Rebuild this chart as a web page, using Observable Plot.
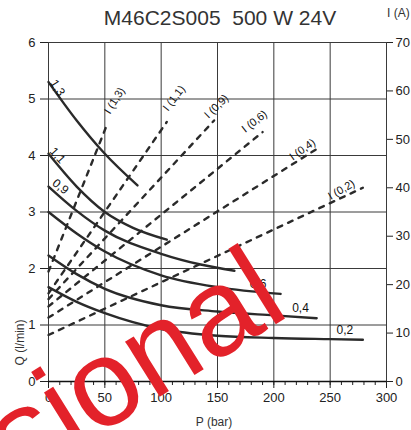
<!DOCTYPE html>
<html>
<head>
<meta charset="utf-8">
<script src="https://cdn.jsdelivr.net/npm/d3@7"></script>
<script src="https://cdn.jsdelivr.net/npm/@observablehq/plot@0.6"></script>
<style>
  html, body { margin: 0; padding: 0; background: #fff; }
  #wrap { position: relative; width: 411px; height: 430px; overflow: hidden; font-family: "Liberation Sans", Arial, sans-serif; }
  #title { position: relative; height: 30px; }
  #title .main { position: absolute; left: 220px; top: 6.7px; transform: translateX(-50%); font-size: 21px; line-height: 21px; color: #333; white-space: pre; }
  #title .unit { position: absolute; left: 387px; top: 7.3px; font-size: 12px; line-height: 12px; color: #333; white-space: pre; }
  #mark { position: absolute; left: 0; top: 0; pointer-events: none; }
</style>
</head>
<body>
<div id="wrap">
  <div id="title"><span class="main">M46C2S005  500 W 24V</span><span class="unit">I (A)</span></div>
  <div id="chart"></div>
  <svg id="mark" width="411" height="430"><text x="291.8" y="314.4" text-anchor="end" transform="rotate(-32 291.8 314.4)" font-size="123" fill="#e3222a" font-family="Liberation Sans, Arial, sans-serif">Provisional</text></svg>
</div>
<script>
// ---- data ----
const displacements = ["1,3", "1,1", "0,9", "0,6", "0,4", "0,2"];

// flow Q (l/min) vs pressure P (bar)
const flowP = [
  [0, 25, 50, 79],
  [0, 25, 50, 75, 105],
  [0, 25, 50, 100, 135, 165],
  [0, 25, 50, 100, 150, 206],
  [0, 25, 50, 100, 150, 200, 238],
  [0, 25, 50, 100, 150, 200, 250, 279]
];
const flowQ = [
  [5.30, 4.62, 4.03, 3.47],
  [4.03, 3.45, 3.00, 2.72, 2.51],
  [3.45, 3.02, 2.67, 2.26, 2.07, 1.96],
  [3.00, 2.62, 2.30, 1.88, 1.67, 1.55],
  [2.23, 1.90, 1.64, 1.35, 1.24, 1.17, 1.12],
  [1.67, 1.41, 1.21, 0.93, 0.81, 0.77, 0.75, 0.74]
];

// current I (A) lines vs pressure: start at P = 0, end at currentEndP
const currentAtZero = [22.7, 18.2, 17.0, 15.5, 13.2, 9.6];
const currentEndP   = [51, 105, 147, 190, 238, 279];
const currentAtEnd  = [52.5, 53.6, 53.9, 51.5, 48.0, 40.0];

// label anchor points (data units)
const flowLabelP = [8, 8, 10.6, 186, 223.7, 263];
const flowLabelQ = [5.20, 4.00, 3.45, 1.73, 1.29, 0.90];
const currentLabelP = [58.6, 111.4, 149, 182.8, 225.4, 260];
const currentLabelI = [58.0, 58.5, 56.8, 53.7, 47.9, 39.6];

// axes
const pTicks = [0, 50, 100, 150, 200, 250, 300];
const pMinor = d3.range(0, 301, 10);
const qTicks = [0, 1, 2, 3, 4, 5, 6];
const iTicks = [0, 10, 20, 30, 40, 50, 60, 70];

// ---- build ----
const Qmax = 6, Imax = 70;
const toQ = (i) => i * Qmax / Imax;

const flowRows = displacements.flatMap((name, k) =>
  flowP[k].map((P, j) => ({name, P, Q: flowQ[k][j]})));
const currentRows = displacements.flatMap((name, k) => [
  {name, P: 0, Q: toQ(currentAtZero[k])},
  {name, P: currentEndP[k], Q: toQ(currentAtEnd[k])}
]);
const flowLabelRot = [58, 48, 38, 0, 0, 0];
const currentLabelRot = [-58, -52, -44, -38, -35, -30];
const flowLabels = displacements.map((name, k) => ({name, P: flowLabelP[k], Q: flowLabelQ[k], r: flowLabelRot[k]}));
const currentLabels = displacements.map((name, k) => ({name: "I (" + name + ")", P: currentLabelP[k], Q: toQ(currentLabelI[k]), r: currentLabelRot[k]}));

const ink = "#2a2a2a";
const grid = "#3a3a3a";

const chart = Plot.plot({
  width: 411,
  height: 400,
  marginTop: 12,
  marginBottom: 49,
  marginLeft: 48,
  marginRight: 25,
  x: {domain: [0, 300]},
  y: {domain: [0, 6]},
  style: {fontFamily: "'Liberation Sans', Arial, sans-serif", fontSize: "13px", color: "#222", background: "#fff"},
  marks: [
    Plot.gridX(pTicks, {stroke: grid, strokeOpacity: 1, strokeWidth: 1}),
    Plot.gridY(qTicks, {stroke: grid, strokeOpacity: 1, strokeWidth: 1}),
    Plot.frame({stroke: grid, strokeWidth: 1}),
    Plot.axisX({ticks: pMinor, tickSize: 4, tickFormat: () => "", label: null, stroke: "#222"}),
    Plot.axisX({ticks: pTicks, tickSize: 7, tickPadding: 4, label: null, stroke: "#222", fontSize: 13, tickFormat: (d) => String(d)}),
    Plot.axisY({ticks: qTicks, tickSize: 8, tickPadding: 5, label: null, stroke: "#222", fontSize: 13, tickFormat: (d) => String(d)}),
    Plot.axisY({ticks: iTicks.map(toQ), anchor: "right", tickSize: 6, tickPadding: 3, label: null, stroke: "#222", fontSize: 13,
      tickFormat: (d) => String(Math.round(d * Imax / Qmax))}),
    Plot.ruleY([0], {stroke: "#111", strokeWidth: 1.6}),
    Plot.line(currentRows, {x: "P", y: "Q", z: "name", stroke: ink, strokeWidth: 2.4, strokeDasharray: "5,6.5"}),
    Plot.line(flowRows, {x: "P", y: "Q", z: "name", curve: "monotone-x", stroke: ink, strokeWidth: 2.4}),
    Plot.text(flowLabels, {x: "P", y: "Q", text: "name", rotate: "r", fontSize: 12, fill: "#111", textAnchor: "middle", lineAnchor: "middle"}),
    Plot.text(currentLabels, {x: "P", y: "Q", text: "name", rotate: "r", fontSize: 11, fill: "#111", textAnchor: "middle", lineAnchor: "middle"}),
    Plot.text(["Q (l/min)"], {text: (d) => d, frameAnchor: "bottom-left", dx: -28, dy: -39, rotate: -90, fontSize: 12, fill: "#333", textAnchor: "middle", lineAnchor: "middle"}),
    Plot.text(["P (bar)"], {text: (d) => d, frameAnchor: "bottom", dx: -3.5, dy: 40.5, fontSize: 12, fill: "#333", textAnchor: "middle", lineAnchor: "middle"})
  ]
});
document.getElementById("chart").appendChild(chart);
</script>
</body>
</html>
